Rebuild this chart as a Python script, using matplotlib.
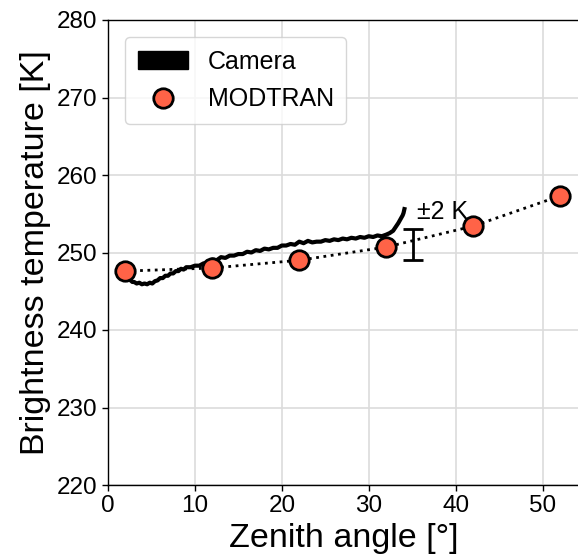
import matplotlib
matplotlib.use("Agg")
import matplotlib.pyplot as plt
from matplotlib.patches import Patch
from matplotlib.lines import Line2D

plt.rcParams['font.family'] = ['Liberation Sans', 'DejaVu Sans']

# Camera brightness temperature along the zenith angle
camera_angle = [2.2, 2.4, 2.6, 2.8, 3.0, 3.3, 3.6, 3.9, 4.2, 4.5, 4.8, 5.1, 5.4,
                5.7, 6.0, 6.3, 6.6, 6.9, 7.2, 7.5, 7.8, 8.1, 8.4, 8.7, 9.0,
                9.5, 10.0, 10.5, 11.0, 11.5, 12.0, 12.5, 13.0, 13.5, 14.0,
                14.5, 15.0, 15.5, 16.0, 16.5, 17.0, 17.5, 18.0, 18.5, 19.0,
                19.5, 20.0, 20.5, 21.0, 21.5, 22.0, 22.5, 23.0, 23.5, 24.0,
                24.5, 25.0, 25.5, 26.0, 26.5, 27.0, 27.5, 28.0, 28.5, 29.0,
                29.5, 30.0, 30.5, 31.0, 31.5, 32.0, 32.4, 32.8, 33.1, 33.4,
                33.7, 33.9, 34.0, 34.1]
camera_temp = [247.0, 246.6, 246.4, 246.2, 246.2, 246.0, 246.1, 245.9, 246.0,
               245.9, 246.1, 246.0, 246.3, 246.4, 246.7, 246.7, 247.0, 247.0,
               247.3, 247.3, 247.6, 247.6, 247.9, 247.8, 248.1, 248.1, 248.3,
               248.3, 248.6, 248.6, 249.1, 249.0, 249.4, 249.3, 249.6, 249.6,
               249.8, 249.8, 250.1, 250.0, 250.3, 250.2, 250.5, 250.4, 250.6,
               250.6, 250.9, 250.9, 251.1, 251.0, 251.4, 251.2, 251.5, 251.3,
               251.4, 251.4, 251.6, 251.5, 251.7, 251.6, 251.8, 251.7, 251.9,
               251.8, 252.0, 251.9, 252.1, 252.0, 252.2, 252.1, 252.3, 252.5,
               252.8, 253.3, 253.8, 254.4, 254.8, 255.1, 255.6]

# MODTRAN simulated brightness temperature
modtran_angle = [2, 12, 22, 32, 42, 52]
modtran_temp = [247.6, 248.0, 249.0, 250.7, 253.4, 257.3]

# Uncertainty bar
err_x = 35.1
err_center = 251.0
err_half = 2.0

x_ticks = [0, 10, 20, 30, 40, 50]
y_ticks = [220, 230, 240, 250, 260, 270, 280]

fig = plt.figure(figsize=(5.78, 5.59), dpi=100)
ax = fig.add_axes([108 / 578, 74 / 559, 472 / 578, 465 / 559])

ax.plot(camera_angle, camera_temp, color='black', lw=3.0, zorder=3,
        solid_joinstyle='round')
ax.plot(modtran_angle, modtran_temp, linestyle=':', color='black', lw=2.0,
        zorder=2)
ax.plot(modtran_angle, modtran_temp, linestyle='none', marker='o',
        markersize=14, markerfacecolor='#ff6347', markeredgecolor='black',
        markeredgewidth=2.0, zorder=4)

ax.errorbar([err_x], [err_center], yerr=[err_half], color='black', lw=2.0,
            capsize=7.5, capthick=2.0, zorder=3)
ax.text(35.6, 255.2, '±2 K', fontsize=18, va='center', ha='left')

ax.set_xlim(0, 54.3)
ax.set_ylim(220, 280)
ax.set_xticks(x_ticks)
ax.set_yticks(y_ticks)
ax.tick_params(labelsize=17.5, direction='out', length=4, width=1)
ax.grid(True, color='#dcdcdc', lw=1.2)
ax.set_axisbelow(True)
ax.spines['right'].set_visible(False)
for s in ['left', 'bottom', 'top']:
    ax.spines[s].set_linewidth(1.0)

ax.set_xlabel('Zenith angle [°]', fontsize=24.5)
ax.set_ylabel('Brightness temperature [K]', fontsize=24.5)

handles = [Patch(facecolor='black', edgecolor='black', label='Camera'),
           Line2D([], [], linestyle='none', marker='o', markersize=14,
                  markerfacecolor='#ff6347', markeredgecolor='black',
                  markeredgewidth=2.0, label='MODTRAN')]
ax.legend(handles=handles, loc='upper left', fontsize=18,
          bbox_to_anchor=(0.01, 0.99), handlelength=2.0, borderpad=0.5,
          labelspacing=0.55)

fig.savefig('out.png', dpi=100)
